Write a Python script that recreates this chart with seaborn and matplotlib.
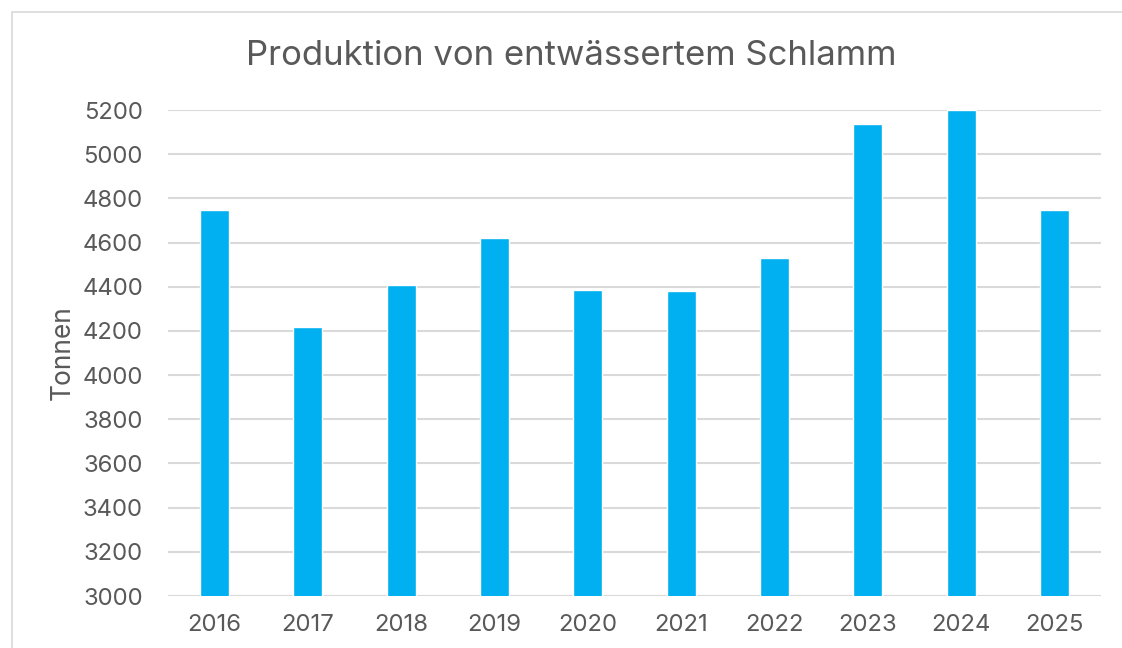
import matplotlib
matplotlib.use("Agg")
import matplotlib.pyplot as plt
import seaborn as sns
import pandas as pd
from matplotlib.patches import Rectangle

# values
years = ["2016", "2017", "2018", "2019", "2020", "2021", "2022", "2023", "2024", "2025"]
tonnen = [4746, 4218, 4408, 4621, 4385, 4380, 4530, 5137, 5200, 4749]

df = pd.DataFrame({"Jahr": years, "Tonnen": tonnen})

sns.set_style("white")
plt.rcParams["font.family"] = ["Inter", "DejaVu Sans"]
grey = "#595959"

fig = plt.figure(figsize=(11.22, 6.48), dpi=100)
ax = fig.add_axes([0.1497, 0.0802, 0.8316, 0.75])

sns.barplot(data=df, x="Jahr", y="Tonnen", color="#00B0F0", width=0.31,
            saturation=1, ax=ax, zorder=3)

ax.set_ylim(3000, 5200)
ax.set_yticks(range(3000, 5201, 200))
ax.set_xlim(-0.5, len(years) - 0.5)
ax.grid(True, axis="y", color="#D9D9D9", linewidth=1.5, zorder=0)
ax.set_axisbelow(True)
for s in ax.spines.values():
    s.set_visible(False)

ax.tick_params(axis="y", length=0, pad=18, labelsize=17.2, labelcolor=grey)
ax.tick_params(axis="x", length=0, pad=13, labelsize=17.2, labelcolor=grey)
ax.set_xlabel("")
ax.set_ylabel("Tonnen", fontsize=19, color=grey, labelpad=5)
fig.suptitle("Produktion von entwässertem Schlamm", fontsize=25, color=grey,
             x=0.509, y=1 - 40 / 648, va="top")

# light chart frame like the office export
fig.patches.append(Rectangle((12 / 1122, -0.5), 2.0, 0.5 + 1 - 12 / 648,
                             transform=fig.transFigure, fill=False,
                             edgecolor="#D9D9D9", linewidth=1.2))

fig.savefig("out.png", dpi=100)
